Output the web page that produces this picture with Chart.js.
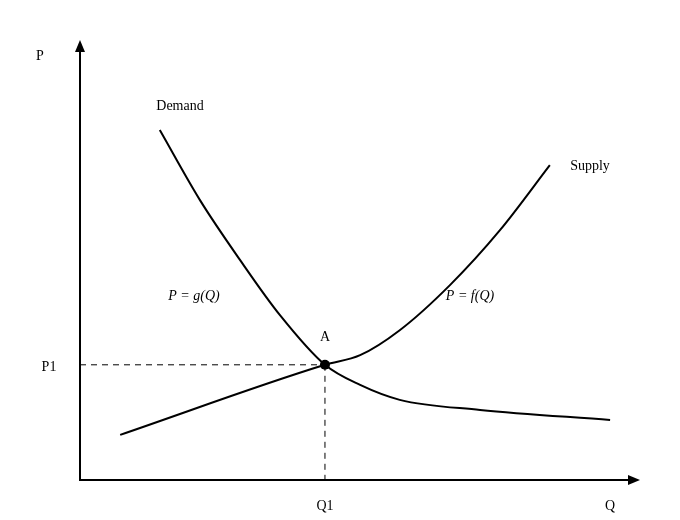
<!DOCTYPE html>
<html>
<head>
<meta charset="utf-8">
<script src="https://cdn.jsdelivr.net/npm/chart.js@4"></script>
<style>
  body { margin: 0; background: #fff; }
  #wrap { width: 680px; height: 520px; }
</style>
</head>
<body>
<div id="wrap"><canvas id="myChart"></canvas></div>
<script>
// values in axis units (0..100 on both axes)
const demandQ = [14.3, 21.5, 28.7, 35.8, 43.9, 50.2, 57.3, 71.7, 95.0];
const demandP = [79.9, 63.9, 50.2, 37.7, 26.3, 21.7, 18.3, 16.0, 13.7];
const supplyQ = [7.2, 43.9, 50.2, 57.3, 66.3, 75.3, 84.2];
const supplyP = [10.3, 26.3, 28.5, 34.2, 44.5, 57.1, 71.9];
const eqQ = 43.9;
const eqP = 26.3;

const toPts = (xs, ys) => xs.map((x, i) => ({ x: x, y: ys[i] }));

const lineStyle = {
    borderColor: '#000',
    borderWidth: 2,
    pointRadius: 0,
    fill: false,
    cubicInterpolationMode: 'monotone'
};

const decor = {
    id: 'decor',
    afterDraw(chart) {
        const ctx = chart.ctx;
        const a = chart.chartArea;
        const xs = chart.scales.x, ys = chart.scales.y;
        ctx.save();
        ctx.strokeStyle = '#000';
        ctx.fillStyle = '#000';
        ctx.lineWidth = 2;
        // axes
        ctx.beginPath();
        ctx.moveTo(a.left, a.top + 2);
        ctx.lineTo(a.left, a.bottom);
        ctx.lineTo(a.right - 2, a.bottom);
        ctx.stroke();
        ctx.beginPath();
        ctx.moveTo(a.left, a.top - 2);
        ctx.lineTo(a.left - 5, a.top + 10);
        ctx.lineTo(a.left + 5, a.top + 10);
        ctx.fill();
        ctx.beginPath();
        ctx.moveTo(a.right + 2, a.bottom);
        ctx.lineTo(a.right - 10, a.bottom - 5);
        ctx.lineTo(a.right - 10, a.bottom + 5);
        ctx.fill();
        // dashed guides
        const ex = xs.getPixelForValue(eqQ), ey = ys.getPixelForValue(eqP);
        ctx.lineWidth = 1;
        ctx.setLineDash([6, 5]);
        ctx.beginPath();
        ctx.moveTo(a.left, ey); ctx.lineTo(ex, ey);
        ctx.moveTo(ex, ey); ctx.lineTo(ex, a.bottom);
        ctx.stroke();
        ctx.setLineDash([]);
        ctx.beginPath();
        ctx.arc(ex, ey, 5, 0, Math.PI * 2);
        ctx.fill();
        // labels
        ctx.textAlign = 'center';
        ctx.textBaseline = 'middle';
        ctx.font = '14px "Liberation Serif"';
        ctx.fillText('P', 40, 56);
        ctx.fillText('Q', 610, 506);
        ctx.fillText('Q1', ex, 506);
        ctx.fillText('P1', 49, 367);
        ctx.fillText('A', ex, 337);
        ctx.fillText('Demand', 180, 106);
        ctx.fillText('Supply', 590, 166);
        ctx.font = 'italic 14px "Liberation Serif"';
        ctx.fillText('P = g(Q)', 194, 296);
        ctx.fillText('P = f(Q)', 470, 296);
        ctx.restore();
    }
};

new Chart(document.getElementById('myChart').getContext('2d'), {
    type: 'line',
    data: {
        datasets: [
            Object.assign({ label: 'Demand', data: toPts(demandQ, demandP) }, lineStyle),
            Object.assign({ label: 'Supply', data: toPts(supplyQ, supplyP) }, lineStyle)
        ]
    },
    options: {
        responsive: true,
        maintainAspectRatio: false,
        animation: false,
        layout: { padding: { left: 80, right: 42, top: 42, bottom: 40 } },
        plugins: { legend: { display: false }, tooltip: { enabled: false } },
        scales: {
            x: { type: 'linear', min: 0, max: 100, display: false },
            y: { type: 'linear', min: 0, max: 100, display: false }
        }
    },
    plugins: [decor]
});
</script>
</body>
</html>
